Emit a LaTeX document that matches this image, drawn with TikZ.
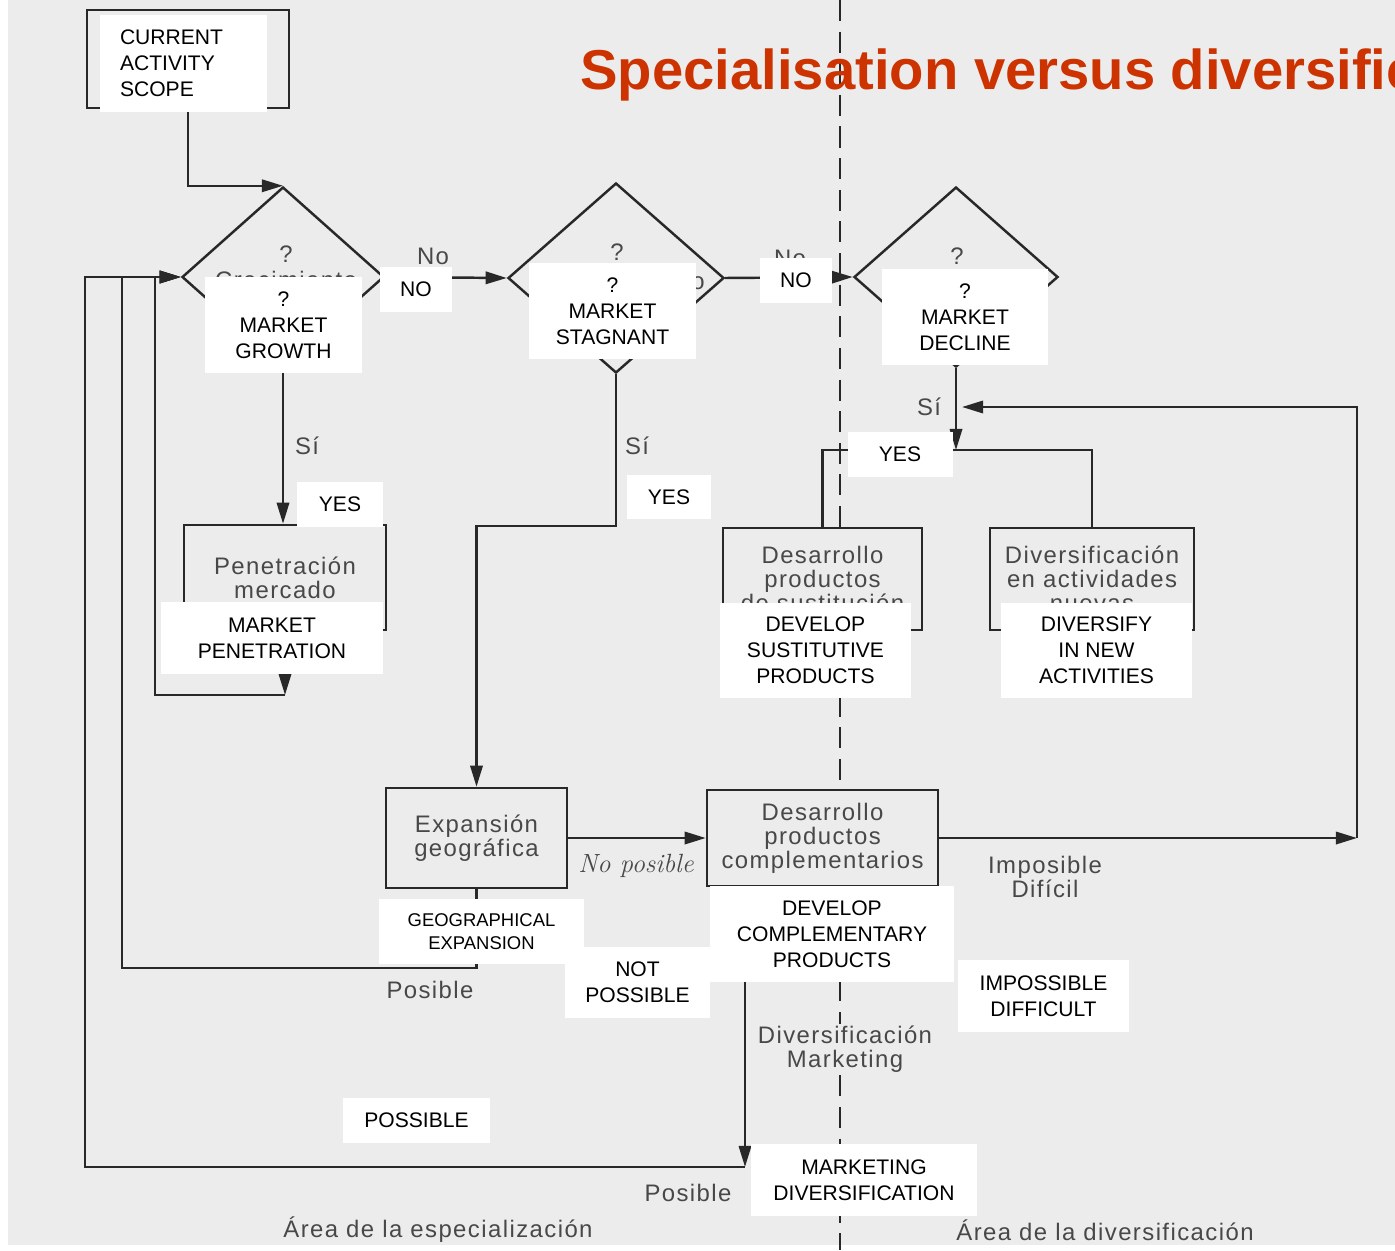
\documentclass[tikz,border=0pt]{standalone}
\usepackage{fontspec}
\usepackage{tikz}
\usetikzlibrary{arrows.meta,shapes.geometric}
\newfontfamily\engfont{Liberation Sans}
\newfontfamily\scanfont[LetterSpace=6]{Liberation Sans}
\newfontfamily\titlefont{Liberation Sans}
\definecolor{paper}{RGB}{236,236,236}
\definecolor{ink}{RGB}{40,40,40}
\definecolor{scan}{RGB}{72,72,72}
\definecolor{ttl}{RGB}{204,51,0}

\begin{document}
\begin{tikzpicture}[x=0.02cm,y=-0.02cm,>={Triangle[length=12pt,width=7pt]},
  flow/.style={draw=ink,line width=1.4pt},
  dmd/.style 2 args={diamond,draw=ink,line width=1.4pt,inner sep=0pt,
    minimum width=#1*0.02cm,minimum height=#2*0.02cm},
  box/.style 2 args={draw=ink,line width=1.4pt,fill=paper,text=scan,align=center,
    inner sep=0pt,font=\scanfont\fontsize{13.6}{13.6}\selectfont,
    minimum width=#1*0.02cm,minimum height=#2*0.02cm},
  lbl/.style={text=scan,align=center,inner sep=1pt,
    font=\scanfont\fontsize{13.6}{13.6}\selectfont},
  wbox/.style 2 args={fill=white,text=black,align=center,inner sep=0pt,
    font=\engfont\fontsize{12}{14.8}\selectfont,
    minimum width=#1*0.02cm,minimum height=#2*0.02cm}]
  % page and scanned sheet
  \useasboundingbox (0,0) rectangle (1395,1250);
  \clip (0,0) rectangle (1395,1250);
  \fill[white] (0,0) rectangle (1395,1250);
  \fill[paper] (8,0) rectangle (1395,1245);
  \draw[ink,line width=1.3pt,dash pattern=on 12pt off 6pt] (840,0) -- (840,1250);
  \node[anchor=base west,text=ttl,inner sep=0pt,
    font=\titlefont\bfseries\fontsize{32}{38}\selectfont] (title) at (580,90)
    {Specialisation versus diversific};

  % boxes and questions
  \node[box={202}{98}] (cur) at (188,59) {};
  \node[dmd={202}{180}] (d1) at (283,277) {};
  \node[dmd={216}{190}] (d2) at (616,278) {};
  \node[dmd={204}{180}] (d3) at (956,277) {};
  \node[box={202}{105}] (pen) at (285,577.5) {Penetración\\mercado};
  \node[box={199}{102}] (sus) at (822.5,579) {Desarrollo\\productos\\de sustitución};
  \node[box={204}{102}] (div) at (1092,579) {Diversificación\\en actividades\\nuevas};
  \node[box={181}{100}] (exp) at (476.5,838) {Expansión\\geográfica};
  \node[box={231}{96}] (cmp) at (822.5,838) {Desarrollo\\productos\\complementarios};

  \coordinate (split) at (956,450);
  \coordinate (rb) at (1357,838);
  \coordinate (rt) at (1357,407);
  \coordinate (rs) at (962,407);
  \coordinate (j1) at (155,277);
  \coordinate (j2) at (122,277);
  \coordinate (j3) at (85,277);
  \coordinate (pl) at (285,695);
  \coordinate (ml) at (745,1167);

  \draw[flow,->] (cur.south) |- (d1.north);
  \draw[flow,->] (d1.east) -- (d2.west);
  \draw[flow,->] (d2.east) -- (d3.west);
  \draw[flow,->] (d1.south) -- (d1.south |- pen.north);
  \draw[flow,->] (d2.south) -- ++(0,152) -| (exp.north);
  \draw[flow,->] (d3.south) -- (split);
  \draw[flow] (sus.north) |- (split) -| (div.north);
  \draw[flow,->] (cmp.east) -- (rb);
  \draw[flow,->] (rb) -- (rt) -- (rs);
  \draw[flow,->] (exp.east) -- (cmp.west);
  % loops back to the first question
  \draw[flow,->] (pen.south) -- (pl);
  \draw[flow,->] (pl) -| (j1) -- (d1.west);
  \draw[flow,->] (exp.south) -- ++(0,79) -| (j2) -- (d1.west);
  \draw[flow,->] (cmp.south -| ml) -- (ml);
  \draw[flow,->] (ml) -| (j3) -- (d1.west);

  % scanned labels
  \node[lbl] (q1) at (286,254) {?};
  \node[lbl] (gro) at (286,280) {Crecimiento};
  \node[lbl] (no1) at (433,256) {No};
  \node[lbl] (q2) at (617,252) {?};
  \node[lbl] (sta) at (617,281) {Estancamiento};
  \node[lbl] (no2) at (790,258) {No};
  \node[lbl] (q3) at (957,256) {?};
  \node[lbl] (si1) at (307,446) {Sí};
  \node[lbl] (si2) at (637,446) {Sí};
  \node[lbl] (si3) at (929,407) {Sí};
  \node[lbl] (pos1) at (430,990) {Posible};
  \node[lbl] (pos2) at (688,1193) {Posible};
  \node[lbl] (imp) at (1045,877) {Imposible\\Difícil};
  \node[lbl,fill=paper] (dmk) at (845,1049) {Diversificación\\Marketing};
  \node[lbl] (aesp) at (438,1230) {Área de la especialización};
  \node[lbl] (adiv) at (1105,1230) {Área de la diversificación};
  \node[text=scan,font=\itshape\fontsize{15}{15}\selectfont] (nop) at (636,866) {No posible};

  % english overlays
  \node[wbox={167}{97},text width=2.54cm,align=left,inner xsep=0.4cm] (wcur) at (183.5,63.5) {CURRENT\\ACTIVITY\\SCOPE};
  \node[wbox={157}{96}] (wgro) at (283.5,325) {?\\MARKET\\GROWTH};
  \node[wbox={72}{45}] (wno1) at (416,289.5) {NO};
  \node[wbox={167}{96}] (wsta) at (612.5,311) {?\\MARKET\\STAGNANT};
  \node[wbox={72}{45}] (wno2) at (796,280.5) {NO};
  \node[wbox={166}{96}] (wdec) at (965,317) {?\\MARKET\\DECLINE};
  \node[wbox={86}{45}] (wyes1) at (340,504.5) {YES};
  \node[wbox={84}{44}] (wyes2) at (669,497) {YES};
  \node[wbox={105}{45}] (wyes3) at (900,454) {YES};
  \node[wbox={222}{72}] (wpen) at (272,638) {MARKET\\PENETRATION};
  \node[wbox={191}{95}] (wsus) at (815.5,650.5) {DEVELOP\\SUSTITUTIVE\\PRODUCTS};
  \node[wbox={191}{95}] (wdiv) at (1096.5,650.5) {DIVERSIFY\\IN NEW\\ACTIVITIES};
  \node[wbox={205}{65},font=\engfont\fontsize{10.5}{13.1}\selectfont] (wgeo) at (481.5,931.5) {GEOGRAPHICAL\\EXPANSION};
  \node[wbox={145}{71}] (wnot) at (637.5,982.5) {NOT\\POSSIBLE};
  \node[wbox={244}{96}] (wcmp) at (832,934) {DEVELOP\\COMPLEMENTARY\\PRODUCTS};
  \node[wbox={171}{72}] (wimp) at (1043.5,996) {IMPOSSIBLE\\DIFFICULT};
  \node[wbox={147}{45}] (wpos) at (416.5,1120.5) {POSSIBLE};
  \node[wbox={226}{72}] (wmkt) at (864,1180) {MARKETING\\DIVERSIFICATION};
\end{tikzpicture}
\end{document}
